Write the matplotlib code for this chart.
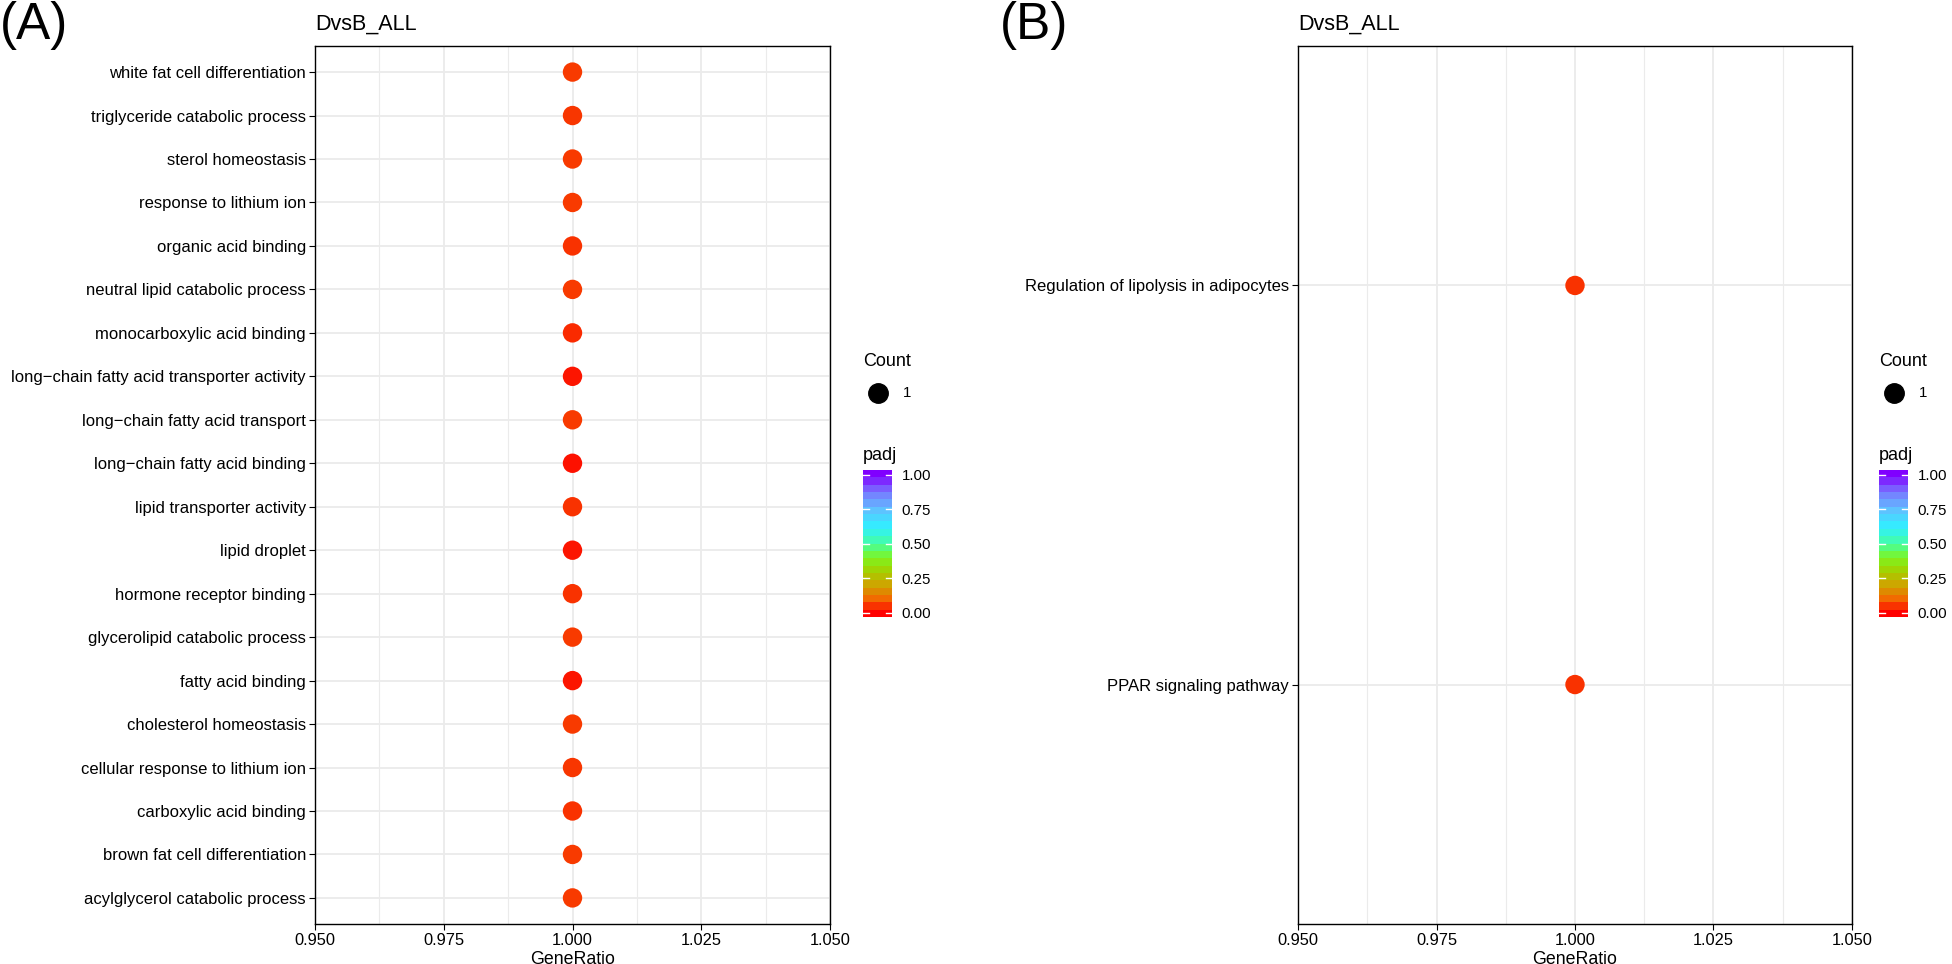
import matplotlib
matplotlib.use("Agg")
import matplotlib.pyplot as plt
import numpy as np
from matplotlib.colors import LinearSegmentedColormap, Normalize
from matplotlib.lines import Line2D

plt.rcParams['font.family'] = ['Liberation Sans', 'DejaVu Sans']

# ---- data ----
# panel (A): GO terms, listed from top to bottom
go_terms = [
    "white fat cell differentiation",
    "triglyceride catabolic process",
    "sterol homeostasis",
    "response to lithium ion",
    "organic acid binding",
    "neutral lipid catabolic process",
    "monocarboxylic acid binding",
    "long\u2212chain fatty acid transporter activity",
    "long\u2212chain fatty acid transport",
    "long\u2212chain fatty acid binding",
    "lipid transporter activity",
    "lipid droplet",
    "hormone receptor binding",
    "glycerolipid catabolic process",
    "fatty acid binding",
    "cholesterol homeostasis",
    "cellular response to lithium ion",
    "carboxylic acid binding",
    "brown fat cell differentiation",
    "acylglycerol catabolic process",
]
go_ratio = [1.0] * 20
go_count = [1] * 20
go_padj = [0.055, 0.052, 0.058, 0.055, 0.050, 0.055, 0.040, 0.020, 0.058, 0.017,
           0.050, 0.022, 0.050, 0.058, 0.022, 0.058, 0.052, 0.050, 0.055, 0.055]

# panel (B): KEGG pathways, listed from top to bottom
kegg_terms = ["Regulation of lipolysis in adipocytes", "PPAR signaling pathway"]
kegg_ratio = [1.0, 1.0]
kegg_count = [1, 1]
kegg_padj = [0.047, 0.050]

x_ticks = [0.950, 0.975, 1.000, 1.025, 1.050]
padj_ticks = [0.0, 0.25, 0.5, 0.75, 1.0]

# ---- style ----
W, H = 1952, 964
cmap = LinearSegmentedColormap.from_list("padj", [
    (0.0, "#FF0000"), (0.1, "#F26A00"), (0.2, "#CFA300"), (0.3, "#A4D000"),
    (0.4, "#7EF520"), (0.5, "#45FFA0"), (0.62, "#30F0FF"), (0.75, "#60C0FF"),
    (0.875, "#7878FF"), (1.0, "#8000FF")])
norm = Normalize(0, 1)
grid_col = "#EBEBEB"


def fx(x):
    return x / W


def fy(y):
    return 1 - y / H


def panel(left, right, terms, ratio, count, padj, tag, leg_x):
    ax = fig.add_axes([fx(left), fy(924), fx(right - left), (924 - 46) / H])
    n = len(terms)
    ypos = np.arange(n)[::-1]
    ax.scatter(ratio, ypos, s=[195 * c for c in count], c=padj, cmap=cmap, norm=norm,
               linewidths=0, zorder=3)
    ax.set_xlim(0.95, 1.05)
    ax.set_ylim(-0.6, n - 0.4)
    ax.set_xticks(x_ticks)
    ax.set_xticklabels(["%.3f" % v for v in x_ticks], fontsize=11.8)
    ax.set_xticks([0.9625, 0.9875, 1.0125, 1.0375], minor=True)
    ax.set_yticks(ypos)
    ax.set_yticklabels(terms, fontsize=12.0)
    ax.tick_params(axis="both", which="major", length=4, width=0.8, color="black", pad=2.5)
    ax.tick_params(axis="x", which="minor", length=0)
    ax.grid(which="major", color=grid_col, lw=1.3, zorder=0)
    ax.grid(which="minor", axis="x", color=grid_col, lw=0.8, zorder=0)
    ax.set_axisbelow(True)
    for s in ax.spines.values():
        s.set_color("black")
        s.set_linewidth(1.0)
    ax.set_xlabel("GeneRatio", fontsize=12.8, labelpad=2)
    ax.set_title("DvsB_ALL", loc="left", fontsize=15.5, pad=12)

    # panel tag
    fig.text(fx(tag[1]), fy(25), tag[0], fontsize=37, ha="left", va="center")

    # size legend
    fig.text(fx(leg_x), fy(361), "Count", fontsize=13, ha="left", va="center")
    fig.add_artist(Line2D([fx(leg_x + 15)], [fy(393)], marker="o", ms=14,
                          color="black", lw=0, transform=fig.transFigure))
    fig.text(fx(leg_x + 40), fy(393), "1", fontsize=10.8, ha="left", va="center")

    # colour bar legend
    fig.text(fx(leg_x), fy(455), "padj", fontsize=13, ha="left", va="center")
    cax = fig.add_axes([fx(leg_x), fy(617), fx(29), (617 - 470) / H])
    lo, hi = -0.03, 1.035
    edges = np.linspace(lo, hi, 21)
    mids = np.clip((edges[:-1] + edges[1:]) / 2, 0, 1)
    cax.pcolormesh([0, 1], edges, mids.reshape(-1, 1), cmap=cmap, norm=norm, shading="flat")
    for t in padj_ticks:
        cax.plot([0, 0.2], [t, t], color="white", lw=1.0)
        cax.plot([0.8, 1], [t, t], color="white", lw=1.0)
    cax.set_xlim(0, 1)
    cax.set_ylim(lo, hi)
    cax.set_xticks([])
    cax.yaxis.tick_right()
    cax.set_yticks(padj_ticks)
    cax.set_yticklabels(["%.2f" % t for t in padj_ticks], fontsize=10.8)
    cax.tick_params(axis="y", length=0, pad=7)
    for s in cax.spines.values():
        s.set_visible(False)
    return ax


fig = plt.figure(figsize=(W / 100, H / 100), dpi=100)
panel(315, 830, go_terms, go_ratio, go_count, go_padj, ("(A)", 0), 863)
panel(1298, 1852, kegg_terms, kegg_ratio, kegg_count, kegg_padj, ("(B)", 1000), 1879)
fig.savefig("out.png", dpi=100)
